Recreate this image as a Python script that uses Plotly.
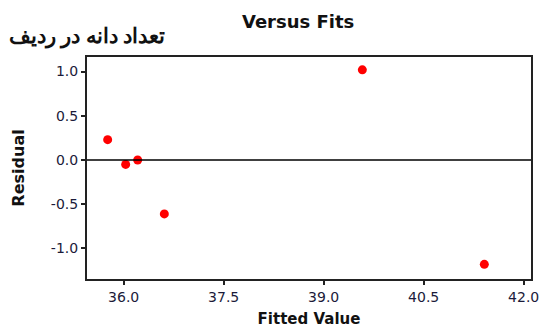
import plotly.graph_objects as go

# Residuals versus fitted values
fitted = [35.76, 36.03, 36.21, 36.61, 39.58, 41.41]
residual = [0.23, -0.05, 0.00, -0.61, 1.02, -1.18]

x_ticks = [36.0, 37.5, 39.0, 40.5, 42.0]
y_ticks = [-1.0, -0.5, 0.0, 0.5, 1.0]

fig = go.Figure()
fig.add_trace(go.Scatter(
    x=fitted, y=residual, mode="markers",
    marker=dict(color="#ff0000", size=9),
    showlegend=False, hoverinfo="skip",
))

# reference line at zero
fig.add_shape(type="line", xref="paper", x0=0, x1=1, yref="y", y0=0, y1=0,
              line=dict(color="#000000", width=1.3))

tick_font = dict(family="DejaVu Sans", size=14, color="#1b1b3a")
axis_common = dict(
    showgrid=False, zeroline=False, showline=True, mirror=True,
    linecolor="#222222", linewidth=2, ticks="outside", ticklen=4,
    tickcolor="#222222", tickwidth=2, tickfont=tick_font,
)

fig.update_xaxes(range=[35.45, 42.11], tickvals=x_ticks,
                 ticktext=[f"{v:.1f}" for v in x_ticks],
                 title=dict(text="<b>Fitted Value</b>", standoff=10,
                            font=dict(family="DejaVu Sans", size=15, color="#111111")),
                 **axis_common)
fig.update_yaxes(range=[-1.346, 1.165], tickvals=y_ticks,
                 ticktext=[f"{v:.1f}" for v in y_ticks],
                 title=dict(text="<b>Residual</b>", standoff=22,
                            font=dict(family="DejaVu Sans", size=16, color="#111111")),
                 **axis_common)

fig.update_layout(
    width=547, height=335,
    margin=dict(l=87, r=8, t=57, b=56),
    paper_bgcolor="white", plot_bgcolor="white",
    title=dict(text="<b>Versus Fits</b>", x=0.545, xanchor="center",
               y=0.934, yanchor="middle",
               font=dict(family="DejaVu Sans", size=18, color="#111111")),
    annotations=[dict(text="<b>تعداد دانه در ردیف</b>", xref="paper", yref="paper",
                      x=-0.18, y=1.1, xanchor="left", yanchor="middle",
                      showarrow=False,
                      font=dict(family="Noto Sans", size=21, color="#111111"))],
)

fig.write_html("out.html")
